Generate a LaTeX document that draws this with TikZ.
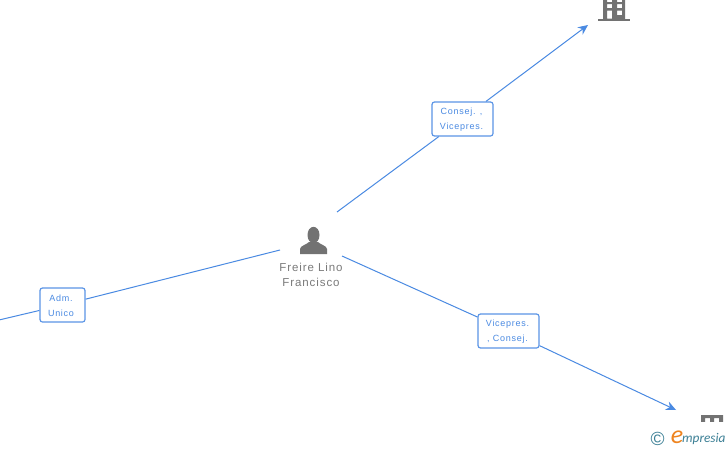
\documentclass[tikz,border=0pt]{standalone}
\usepackage{fontspec}
\setmainfont{Liberation Sans}
\newfontfamily\lblfont[LetterSpace=8]{Liberation Sans}
\newfontfamily\logofont[ItalicFont=Carlito Italic]{Carlito}
\usetikzlibrary{arrows.meta}
\definecolor{linkblue}{HTML}{4A8AE2}
\definecolor{boxblue}{HTML}{5B95E6}
\definecolor{icongray}{HTML}{727272}
\definecolor{textgray}{HTML}{7A7A7A}
\definecolor{logoteal}{HTML}{3B7F95}
\definecolor{logoorange}{HTML}{EE8420}
\tikzset{
  x=1pt,y=-1pt,
  relbox/.style={draw=boxblue,line width=1.2pt,rounded corners=2.5pt,fill=white,inner sep=0pt,
    minimum height=34pt},
  reltext/.style={align=center,inner sep=0pt,text=linkblue,
    font=\lblfont\fontsize{9}{15}\selectfont},
  link/.style={draw=linkblue,line width=1pt},
  linkarrow/.style={link,-{Stealth[length=10pt,width=9pt]}},
  personlabel/.style={align=center,text=textgray,inner sep=0pt,
    font=\lblfont\fontsize{11.5}{15}\selectfont},
  icon/.style={fill=icongray,draw=none}
}
\begin{document}
\begin{tikzpicture}
\useasboundingbox (0,0) rectangle (728,450);
\fill[white] (0,0) rectangle (728,450);
\coordinate (pTR) at (337,212);
\coordinate (pL) at (280,250);
\coordinate (pR) at (342,256);
\coordinate (endTR) at (588,25);
\coordinate (endBR) at (676,410);
\coordinate (endL) at (-1,320);
\node[relbox,minimum width=61pt] (b1) at (462.5,119) {};
\node[reltext] (t1) at (461.5,120) {Consej. ,\\Vicepres.};
\node[relbox,minimum width=61pt] (b2) at (508.5,331) {};
\node[reltext] (t2) at (507.5,331.5) {Vicepres.\\, Consej.};
\node[relbox,minimum width=45pt] (b3) at (62.5,305) {};
\node[reltext] (t3) at (61,305.5) {Adm.\\Unico};
\draw[link] (pTR) -- (b1);
\draw[linkarrow] (b1) -- (endTR);
\draw[link] (pR) -- (b2);
\draw[linkarrow] (b2) -- (endBR);
\draw[link] (pL) -- (b3);
\draw[link] (b3) -- (endL);
% person
\fill[icon] (313.5,235) ellipse (6pt and 8.2pt);
\fill[icon] (300,254) -- (300,249) .. controls (300.5,245.5) and (306,245) .. (309,242)
  -- (318,242) .. controls (321,245) and (326.5,245.5) .. (327,249) -- (327,254) -- cycle;
\node[personlabel] (person) at (311,275) {Freire Lino\\Francisco};
% building top
\begin{scope}
\clip (590,0) rectangle (640,30);
\fill[icon] (598,18.5) rectangle (630,20.5);
\fill[icon,even odd rule] (603,-4) rectangle (625,19)
  (607,4) rectangle (612,8) (617,4) rectangle (622,8)
  (607,10.5) rectangle (612,18.5) (617,10.7) rectangle (622,15)
  (607,-3) rectangle (612,2) (617,-3) rectangle (622,2);
\end{scope}
% building bottom
\begin{scope}
\clip (695,415) rectangle (728,421);
\fill[icon,even odd rule] (701,415) rectangle (723,440)
  (705,418) rectangle (710,425) (714,418) rectangle (719,425);
\end{scope}
% logo
\node[inner sep=0pt,text=logoteal,font=\fontsize{19}{19}\selectfont] (copy) at (657.5,438.5) {©};
\node[inner sep=0pt,text=logoorange,font=\logofont\itshape\fontsize{26}{26}\selectfont] (ee) at (677,437) {e};
\node[inner sep=0pt,anchor=west,text=logoteal,font=\logofont\itshape\fontsize{13.3}{14}\selectfont] (mp) at (682,439) {mpresia};
\end{tikzpicture}
\end{document}
